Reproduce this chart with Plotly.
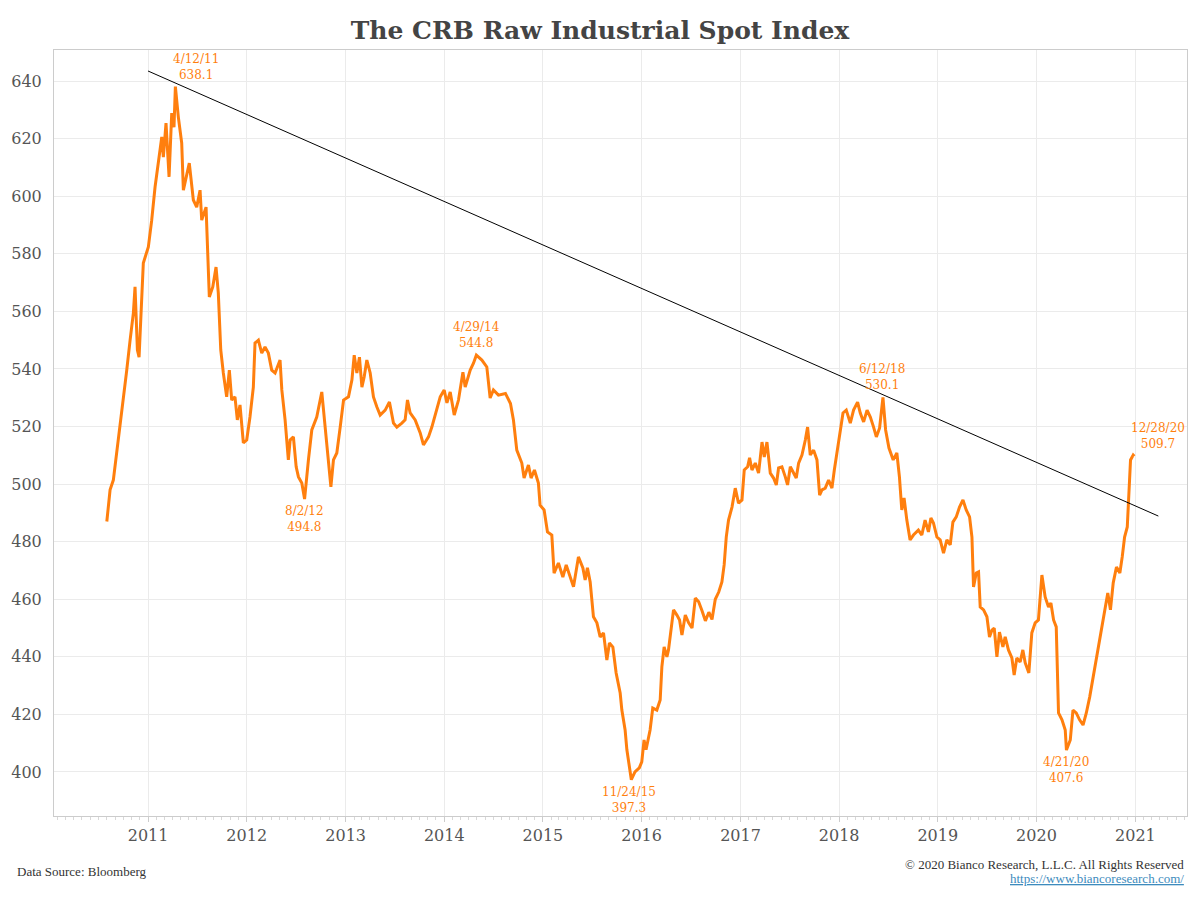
import datetime as dt
import plotly.graph_objects as go

# ---- data (decimal year, index value) ----
years = [
    2010.582, 2010.615, 2010.648, 2010.683, 2010.716, 2010.750, 2010.784, 2010.818, 2010.851, 2010.868,
    2010.892, 2010.909, 2010.936, 2010.952, 2011.003, 2011.037, 2011.071, 2011.104, 2011.139, 2011.155,
    2011.182, 2011.213, 2011.240, 2011.263, 2011.277, 2011.307, 2011.341, 2011.358, 2011.385, 2011.418,
    2011.459, 2011.493, 2011.527, 2011.544, 2011.588, 2011.601, 2011.621, 2011.656, 2011.689, 2011.712,
    2011.737, 2011.763, 2011.797, 2011.824, 2011.848, 2011.881, 2011.905, 2011.932, 2011.966, 2012.000,
    2012.033, 2012.067, 2012.084, 2012.118, 2012.152, 2012.185, 2012.219, 2012.253, 2012.287, 2012.337,
    2012.355, 2012.388, 2012.421, 2012.439, 2012.472, 2012.500, 2012.523, 2012.557, 2012.585, 2012.624,
    2012.658, 2012.708, 2012.759, 2012.793, 2012.826, 2012.851, 2012.877, 2012.911, 2012.945, 2012.979,
    2013.029, 2013.064, 2013.087, 2013.114, 2013.140, 2013.165, 2013.188, 2013.215, 2013.249, 2013.282,
    2013.317, 2013.350, 2013.401, 2013.444, 2013.485, 2013.519, 2013.570, 2013.603, 2013.627, 2013.654,
    2013.705, 2013.756, 2013.789, 2013.840, 2013.874, 2013.925, 2013.959, 2013.999, 2014.027, 2014.060,
    2014.101, 2014.144, 2014.189, 2014.212, 2014.263, 2014.296, 2014.325, 2014.381, 2014.431, 2014.465,
    2014.498, 2014.549, 2014.620, 2014.671, 2014.701, 2014.735, 2014.786, 2014.809, 2014.853, 2014.880,
    2014.914, 2014.954, 2014.971, 2015.012, 2015.046, 2015.090, 2015.113, 2015.157, 2015.202, 2015.236,
    2015.276, 2015.310, 2015.360, 2015.405, 2015.428, 2015.451, 2015.479, 2015.512, 2015.547, 2015.580,
    2015.614, 2015.648, 2015.674, 2015.709, 2015.742, 2015.783, 2015.800, 2015.833, 2015.851, 2015.877,
    2015.896, 2015.933, 2015.977, 2016.002, 2016.025, 2016.045, 2016.086, 2016.113, 2016.154, 2016.188,
    2016.205, 2016.228, 2016.256, 2016.272, 2016.297, 2016.323, 2016.357, 2016.384, 2016.408, 2016.442,
    2016.476, 2016.510, 2016.543, 2016.577, 2016.611, 2016.645, 2016.680, 2016.712, 2016.745, 2016.780,
    2016.812, 2016.835, 2016.856, 2016.879, 2016.914, 2016.947, 2016.980, 2017.015, 2017.038, 2017.072,
    2017.092, 2017.116, 2017.150, 2017.183, 2017.218, 2017.241, 2017.268, 2017.302, 2017.335, 2017.363,
    2017.386, 2017.420, 2017.454, 2017.477, 2017.505, 2017.538, 2017.565, 2017.589, 2017.623, 2017.657,
    2017.680, 2017.707, 2017.741, 2017.775, 2017.802, 2017.826, 2017.859, 2017.893, 2017.927, 2017.951,
    2017.978, 2018.012, 2018.039, 2018.072, 2018.113, 2018.146, 2018.187, 2018.214, 2018.248, 2018.283,
    2018.316, 2018.349, 2018.377, 2018.410, 2018.434, 2018.444, 2018.471, 2018.505, 2018.548, 2018.585,
    2018.611, 2018.635, 2018.658, 2018.686, 2018.719, 2018.753, 2018.803, 2018.838, 2018.871, 2018.905,
    2018.930, 2018.956, 2018.991, 2019.024, 2019.058, 2019.092, 2019.126, 2019.153, 2019.187, 2019.220,
    2019.255, 2019.288, 2019.322, 2019.346, 2019.362, 2019.390, 2019.413, 2019.430, 2019.464, 2019.498,
    2019.524, 2019.549, 2019.572, 2019.599, 2019.625, 2019.660, 2019.683, 2019.716, 2019.751, 2019.774,
    2019.801, 2019.835, 2019.862, 2019.886, 2019.923, 2019.953, 2019.987, 2020.020, 2020.055, 2020.088,
    2020.122, 2020.146, 2020.173, 2020.200, 2020.223, 2020.258, 2020.291, 2020.303, 2020.342, 2020.369,
    2020.402, 2020.436, 2020.471, 2020.504, 2020.538, 2020.572, 2020.606, 2020.639, 2020.664, 2020.687,
    2020.721, 2020.748, 2020.776, 2020.809, 2020.843, 2020.867, 2020.891, 2020.918, 2020.934, 2020.951,
    2020.978, 2020.989,
]
values = [
    487.0, 498.0, 501.4, 510.8, 519.8, 529.2, 539.6, 550.0, 559.4, 568.5,
    546.6, 544.1, 566.4, 576.8, 582.4, 591.7, 603.2, 612.6, 620.6, 613.6,
    625.4, 606.7, 628.9, 624.0, 638.1, 627.5, 618.5, 602.1, 606.7, 611.5,
    598.7, 596.2, 602.1, 591.7, 596.2, 582.4, 565.0, 568.5, 575.4, 566.4,
    546.6, 538.6, 530.3, 539.6, 529.2, 530.3, 522.3, 527.5, 514.3, 515.3,
    523.3, 533.7, 549.0, 550.0, 545.5, 547.6, 545.5, 539.6, 538.6, 543.1,
    532.7, 522.3, 508.4, 515.3, 516.4, 506.0, 502.5, 500.4, 494.8, 508.4,
    518.8, 523.3, 532.0, 519.8, 508.4, 499.0, 508.4, 510.8, 519.8, 529.2,
    530.3, 536.2, 544.8, 538.6, 544.1, 533.7, 537.2, 543.1, 538.6, 530.3,
    526.8, 524.0, 525.7, 528.5, 521.2, 519.8, 521.2, 522.3, 529.2, 524.7,
    522.3, 517.8, 513.6, 516.4, 519.8, 525.7, 530.3, 532.7, 528.2, 532.0,
    524.0, 529.2, 538.9, 533.7, 539.6, 542.0, 544.8, 543.1, 540.7, 529.9,
    532.7, 530.9, 531.5, 528.0, 522.3, 511.8, 507.3, 502.1, 506.6, 502.1,
    504.9, 500.4, 492.7, 491.0, 483.4, 482.3, 469.1, 472.6, 467.7, 471.9,
    467.7, 464.3, 474.7, 470.9, 466.7, 470.9, 466.0, 453.9, 451.8, 446.9,
    448.3, 438.9, 444.8, 443.4, 434.4, 427.4, 421.5, 414.6, 407.7, 401.8,
    397.3, 400.0, 401.4, 403.5, 411.1, 407.7, 414.6, 422.2, 421.5, 425.0,
    436.5, 443.4, 440.0, 442.4, 450.4, 456.3, 454.5, 452.8, 447.6, 454.5,
    451.8, 450.0, 460.4, 459.1, 456.0, 452.5, 455.5, 453.0, 460.0, 462.5,
    466.0, 472.0, 481.6, 487.5, 492.0, 498.6, 493.4, 494.5, 504.9, 506.0,
    509.1, 504.9, 507.3, 503.8, 514.6, 509.4, 514.6, 503.8, 502.1, 499.7,
    505.6, 506.0, 502.5, 499.7, 506.0, 503.8, 502.1, 507.3, 510.1, 515.3,
    519.8, 510.1, 511.8, 508.4, 496.2, 498.0, 498.6, 501.4, 498.6, 504.9,
    510.8, 517.8, 524.7, 525.7, 521.2, 525.7, 528.5, 524.7, 521.6, 525.7,
    523.3, 519.8, 516.4, 519.5, 525.7, 530.1, 518.8, 512.5, 508.4, 510.8,
    502.5, 491.0, 495.2, 487.5, 480.6, 482.3, 484.0, 482.3, 487.5, 483.4,
    488.2, 486.5, 481.6, 480.6, 476.0, 480.6, 478.9, 486.8, 488.6, 492.0,
    494.5, 491.0, 488.6, 481.6, 464.3, 469.1, 469.5, 457.3, 456.3, 453.9,
    446.9, 449.3, 450.0, 440.0, 448.6, 443.4, 446.9, 442.4, 439.6, 433.7,
    439.6, 438.2, 442.4, 437.9, 434.4, 448.3, 451.8, 452.8, 468.4, 460.8,
    457.3, 458.7, 452.8, 450.4, 420.5, 418.1, 414.6, 407.6, 411.1, 421.5,
    420.5, 418.1, 416.3, 420.5, 426.0, 433.0, 440.0, 445.9, 450.4, 455.2,
    462.2, 456.3, 465.7, 471.2, 469.1, 474.7, 481.6, 485.1, 496.9, 508.4,
    510.1, 509.7,
]

# resistance trend line (start / end)
trend_dates = ["2011-01-01", "2021-03-27"]
trend_values = [643.5, 488.9]

# labelled points
label_dates = ["2011-04-12", "2012-08-02", "2014-04-29", "2015-11-24", "2018-06-12", "2020-04-21", "2020-12-28"]
label_values = [638.1, 494.8, 544.8, 397.3, 530.1, 407.6, 509.7]
label_texts = ["4/12/11", "8/2/12", "4/29/14", "11/24/15", "6/12/18", "4/21/20", "12/28/20"]
label_above = [True, False, True, False, True, False, True]
label_xshift = [21, 0, 0, -2, -1, 0, 24]

y_ticks = [400, 420, 440, 460, 480, 500, 520, 540, 560, 580, 600, 620, 640]


def to_date(y):
    yr = int(y)
    start = dt.datetime(yr, 1, 1)
    length = (dt.datetime(yr + 1, 1, 1) - start).days
    return start + dt.timedelta(days=(y - yr) * length)


dates = [to_date(y) for y in years]

FONT = "Georgia, 'DejaVu Serif', serif"
FOOT_FONT = "Georgia, 'Liberation Serif', serif"
ORANGE = "#ff7f0e"

# page geometry (the page body adds an 8px offset)
OFF = 8
PL, PR, PT, PB = 54, 1187, 50, 816   # plot area on the page


def px(xabs):
    return (xabs - PL) / (PR - PL)


def py(yabs):
    return (PB - yabs) / (PB - PT)


fig = go.Figure()
fig.add_trace(go.Scatter(x=dates, y=values, mode="lines",
                         line=dict(color=ORANGE, width=3), showlegend=False))
fig.add_trace(go.Scatter(x=trend_dates, y=trend_values, mode="lines",
                         line=dict(color="#000000", width=1), showlegend=False))

for d, v, t, above, xs in zip(label_dates, label_values, label_texts, label_above, label_xshift):
    fig.add_annotation(x=d, y=v, xref="x", yref="y", showarrow=False,
                       text=f"{t}<br>{v:.1f}", xshift=xs,
                       yanchor="bottom" if above else "top",
                       yshift=3 if above else -3,
                       font=dict(family=FONT, size=12, color=ORANGE))

W, H = 1184, 884
fig.update_layout(
    width=W, height=H,
    margin=dict(l=PL - OFF, r=W + OFF - PR, t=PT - OFF, b=H + OFF - PB, autoexpand=False),
    paper_bgcolor="white", plot_bgcolor="white",
    font=dict(family=FONT, color="#555555"),
    title=dict(text="<b>The CRB Raw Industrial Spot Index</b>",
               x=px(600), xref="paper", xanchor="center",
               y=1 - (30 - OFF) / H, yref="container", yanchor="middle",
               font=dict(family=FONT, size=25, color="#444444")),
    xaxis=dict(type="date", range=["2010-01-18", "2021-07-11"],
               tickformat="%Y", dtick="M12", tick0="2011-01-01",
               showgrid=True, gridcolor="#ebebeb", gridwidth=1,
               showline=True, linecolor="#cccccc", linewidth=1, mirror=True,
               ticks="outside", ticklen=5, tickcolor="#cccccc",
               minor=dict(dtick="M1", ticks="outside", ticklen=3, tickcolor="#d8d8d8", showgrid=False),
               tickfont=dict(family=FONT, size=16, color="#555555"), zeroline=False),
    yaxis=dict(range=[384.7, 650.8], tickvals=y_ticks,
               showgrid=True, gridcolor="#ebebeb", gridwidth=1,
               showline=True, linecolor="#cccccc", linewidth=1, mirror=True,
               ticks="", ticklabelstandoff=8,
               tickfont=dict(family=FONT, size=16, color="#555555"), zeroline=False),
)

fig.add_annotation(x=px(15), y=py(871), xref="paper", yref="paper",
                   xanchor="left", yanchor="middle", showarrow=False,
                   text="Data Source: Bloomberg",
                   font=dict(family=FOOT_FONT, size=13, color="#333333"))
fig.add_annotation(x=px(1186), y=py(864), xref="paper", yref="paper",
                   xanchor="right", yanchor="middle", showarrow=False,
                   text="© 2020 Bianco Research, L.L.C. All Rights Reserved",
                   font=dict(family=FOOT_FONT, size=13, color="#333333"))
fig.add_annotation(x=px(1186), y=py(879), xref="paper", yref="paper",
                   xanchor="right", yanchor="middle", showarrow=False,
                   text="<a href='https://www.biancoresearch.com/' style='color:#3d8bbd'><u>https://www.biancoresearch.com/</u></a>",
                   font=dict(family=FOOT_FONT, size=13, color="#3d8bbd"))

fig.write_html("out.html")
